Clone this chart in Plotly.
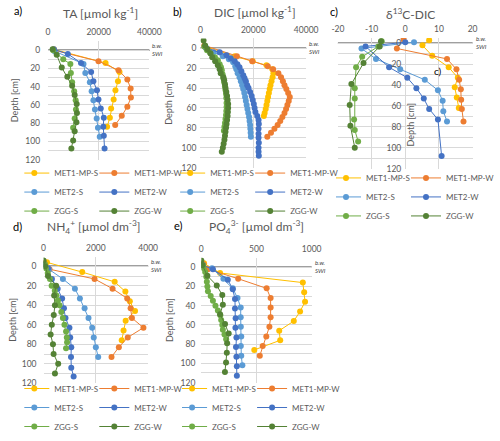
import plotly.graph_objects as go

W, H = 500, 441

SERIES = ["MET1-MP-S", "MET1-MP-W", "MET2-S", "MET2-W", "ZGG-S", "ZGG-W"]
COLORS = ["#FFC000", "#ED7D31", "#5B9BD5", "#4472C4", "#70AD47", "#548235"]

# ---------------- a) TA [umol kg-1] ----------------
ta_met1mp_s_depth = [-1, 14, 24, 34, 44, 54, 64, 74, 84]
ta_met1mp_s = [2300, 22700, 28200, 27600, 26600, 25900, 24900, 24400, 23300]
ta_met1mp_w_depth = [0, 12, 22, 32, 42, 52, 62, 72, 82]
ta_met1mp_w = [2400, 19900, 27800, 31300, 32600, 32700, 31300, 29100, 26500]
ta_met2_s_depth = [1, 15, 25, 35, 45, 55, 65, 75, 85, 95]
ta_met2_s = [2600, 14000, 14700, 16500, 17200, 17900, 18500, 19200, 19700, 20400]
ta_met2_w_depth = [-1, 4, 14, 24, 34, 44, 54, 64, 74, 84, 94, 108]
ta_met2_w = [2300, 7800, 13000, 17000, 17900, 19300, 19900, 20800, 22000, 21800, 22000, 22300]
ta_zgg_s_depth = [0, 10, 15, 25, 35, 45, 55, 65, 75, 85]
ta_zgg_s = [2000, 6000, 8800, 9000, 9500, 10300, 10900, 11000, 10500, 9900]
ta_zgg_w_depth = [-1, 5, 19, 29, 39, 49, 59, 69, 79, 89, 99, 108]
ta_zgg_w = [1800, 3400, 5400, 7600, 9500, 10500, 11300, 11400, 11200, 10500, 9900, 9200]

# ---------------- b) DIC [umol kg-1] ----------------
dic_met1mp_s_depth = [-2, 8, 13, 17, 21, 25, 29, 33, 37, 41, 45, 49, 53, 57, 61, 65, 68]
dic_met1mp_s = [1800, 13000, 19800, 25000, 27200, 27600, 27300, 26900, 26500, 26200,
                25900, 25600, 25300, 25000, 24700, 24300, 24000]
dic_met1mp_w_depth = [-3, 8, 13, 18, 21, 25, 29, 33, 37, 41, 45, 49, 53, 57, 61, 65, 69,
                      73, 77, 81, 85, 89]
dic_met1mp_w = [1500, 13800, 19600, 25500, 27500, 29500, 30500, 31200, 31800, 32500, 33200,
                33800, 33400, 32900, 32400, 31800, 31000, 30200, 29200, 28000, 26700, 25300]
dic_met2_s_depth = [0, 4, 8, 11, 14, 18, 21, 25, 29, 33, 37, 41, 45, 49, 53, 57, 61, 65,
                    69, 73, 77, 81, 85, 89]
dic_met2_s = [2200, 5000, 8500, 10800, 12400, 13200, 13600, 14100, 14800, 15300, 15800,
              16200, 16600, 16900, 17200, 17500, 17800, 18100, 18400, 18600, 18800, 18900,
              19000, 19100]
dic_met2_w_depth = [-1, 4, 7, 10, 13, 16, 19, 23, 27, 30, 33, 37, 40, 44, 48, 52, 56, 60,
                    64, 68, 72, 76, 81, 86, 90, 95, 100, 104, 108]
dic_met2_w = [2000, 7300, 9900, 11500, 13000, 14000, 14800, 15500, 16200, 16700, 17200,
              17700, 18200, 18800, 19400, 19800, 20200, 20500, 20800, 21500, 22000, 22100,
              22000, 22000, 22000, 22100, 22000, 22000, 22100]
dic_zgg_s_depth = [-2, 2, 5, 9, 12, 16, 19, 22, 26, 30, 34, 38, 42, 46, 50, 55, 59, 63,
                   67, 71, 75, 79, 83]
dic_zgg_s = [1500, 2500, 3800, 5500, 6600, 7300, 7800, 8100, 8400, 8700, 9000, 9300, 9500,
             9700, 9800, 9900, 9900, 9800, 9700, 9500, 9300, 9100, 8900]
dic_zgg_w_depth = [-8, -3, 1, 5, 9, 13, 17, 21, 25, 29, 32, 36, 40, 44, 48, 52, 56, 60,
                   64, 68, 72, 76, 80, 84, 88, 92, 96, 100, 104]
dic_zgg_w = [1200, 1800, 2700, 3800, 4500, 5600, 6600, 7300, 7700, 8700, 9000, 9300, 9500,
             9800, 10100, 10300, 10500, 10500, 10400, 10300, 10100, 9900, 9700, 9500, 9300,
             9100, 8800, 8500, 8100]

# ---------------- c) d13C-DIC ----------------
d13c_met1mp_s_depth = [-3, 2, 12, 23, 33, 42, 52, 62]
d13c_met1mp_s = [7.1, 5.1, 8.0, 12.9, 15.6, 14.7, 15.3, 15.9]
d13c_met1mp_w_depth = [-4, 5, 15, 25, 35, 44, 54, 63, 75]
d13c_met1mp_w = [-0.5, -2.5, 12.4, 15.2, 16.0, 16.5, 16.6, 16.8, 17.3]
d13c_met2_s_depth = [-1, 5, 15, 25, 35, 45, 55, 65, 75]
d13c_met2_s = [2.6, -13.0, -8.7, -1.5, 5.8, 9.7, 11.1, 11.3, 12.4]
d13c_met2_w_depth = [-1, 3, 23, 33, 43, 53, 63, 73, 108]
d13c_met2_w = [0.0, -11.8, -4.8, 0.6, 3.3, 5.5, 7.1, 9.7, 10.8]
d13c_zgg_s_depth = [-2, 3, 13, 23, 43, 53, 73, 83, 94]
d13c_zgg_s = [-7.0, -8.0, -12.8, -14.6, -15.0, -15.0, -15.2, -15.0, -14.0]
d13c_zgg_w_depth = [-2, 3, 19, 39, 59, 79, 100]
d13c_zgg_w = [-7.2, -7.6, -12.4, -16.0, -16.5, -16.3, -15.0]

# ---------------- d) NH4+ [umol dm-3] ----------------
nh4_met1mp_s_depth = [-4, 6, 16, 26, 36, 46, 56, 66, 76]
nh4_met1mp_s = [130, 1480, 2720, 3130, 3300, 3500, 3140, 3060, 2990]
nh4_met1mp_w_depth = [-3, 3, 13, 23, 33, 43, 53, 63, 73, 83, 93]
nh4_met1mp_w = [30, 230, 1950, 2640, 3200, 3330, 3380, 3820, 3220, 2880, 2600]
nh4_met2_s_depth = [-1, 3, 13, 23, 33, 43, 53, 63, 73, 83, 93]
nh4_met2_s = [40, 200, 740, 1200, 1390, 1570, 1720, 1860, 1920, 2000, 2090]
nh4_met2_w_depth = [-2, 2, 13, 23, 33, 43, 53, 63, 73, 83, 93, 104, 113]
nh4_met2_w = [30, 170, 320, 540, 710, 780, 840, 990, 1020, 1060, 1050, 1060, 1150]
nh4_zgg_s_depth = [-2, 2, 7, 13, 20, 25, 30, 35, 40, 47, 53, 60, 67, 73, 78, 84]
nh4_zgg_s = [50, 90, 160, 245, 310, 430, 490, 550, 610, 680, 740, 800, 860, 890, 900, 860]
nh4_zgg_w_depth = [-6, 0, 10, 20, 30, 40, 50, 60, 70, 80, 90, 100, 110]
nh4_zgg_w = [0, 60, 170, 480, 405, 435, 390, 315, 270, 360, 385, 560, 435]

# ---------------- e) PO4 3- [umol dm-3] ----------------
po4_met1mp_s_depth = [-4, 6, 16, 26, 36, 46, 56, 66, 76, 86]
po4_met1mp_s = [25, 170, 920, 932, 940, 895, 838, 706, 715, 480]
po4_met1mp_w_depth = [-3, 2, 12, 22, 32, 42, 52, 62, 72, 82, 92]
po4_met1mp_w = [20, 60, 334, 592, 628, 628, 628, 617, 589, 556, 530]
po4_met2_s_depth = [1, 12, 22, 32, 42, 52, 62, 72, 82, 92, 102]
po4_met2_s = [97, 200, 285, 328, 357, 357, 358, 362, 358, 362, 372]
po4_met2_w_depth = [-2, 2, 13, 23, 33, 43, 53, 63, 73, 83, 93, 103, 113]
po4_met2_w = [15, 105, 240, 285, 305, 305, 311, 309, 318, 314, 318, 322, 322]
po4_zgg_s_depth = [-2, 1, 5, 10, 15, 20, 25, 30, 35, 40, 45, 50, 55, 60, 65, 70, 75]
po4_zgg_s = [15, 20, 35, 45, 50, 55, 60, 85, 105, 128, 150, 172, 180, 190, 195, 210, 225]
po4_zgg_w_depth = [-7, -2, 9, 19, 29, 39, 49, 59, 69, 79, 89, 99, 109]
po4_zgg_w = [0, 10, 55, 140, 190, 195, 170, 215, 248, 234, 231, 224, 214]

# ---------------- tick labels ----------------
ta_ticks = [0, 20000, 40000]
dic_ticks = [0, 20000, 40000]
d13c_ticks = [-20, -10, 0, 10, 20]
nh4_ticks = [0, 2000, 4000]
po4_ticks = [0, 500, 1000]
depth_labels = [0, 20, 40, 60, 80, 100, 120]

panel_titles = ["TA [µmol kg<sup>-1</sup>]", "DIC [µmol kg<sup>-1</sup>]", "δ<sup>13</sup>C-DIC",
                "NH<sub>4</sub><sup>+</sup> [µmol dm<sup>-3</sup>]",
                "PO<sub>4</sub><sup>3-</sup> [µmol dm<sup>-3</sup>]"]
panel_letters = ["a)", "b)", "c)", "d)", "e)"]

panel_data = [
    [(ta_met1mp_s, ta_met1mp_s_depth), (ta_met1mp_w, ta_met1mp_w_depth),
     (ta_met2_s, ta_met2_s_depth), (ta_met2_w, ta_met2_w_depth),
     (ta_zgg_s, ta_zgg_s_depth), (ta_zgg_w, ta_zgg_w_depth)],
    [(dic_met1mp_s, dic_met1mp_s_depth), (dic_met1mp_w, dic_met1mp_w_depth),
     (dic_met2_s, dic_met2_s_depth), (dic_met2_w, dic_met2_w_depth),
     (dic_zgg_s, dic_zgg_s_depth), (dic_zgg_w, dic_zgg_w_depth)],
    [(d13c_met1mp_s, d13c_met1mp_s_depth), (d13c_met1mp_w, d13c_met1mp_w_depth),
     (d13c_met2_s, d13c_met2_s_depth), (d13c_met2_w, d13c_met2_w_depth),
     (d13c_zgg_s, d13c_zgg_s_depth), (d13c_zgg_w, d13c_zgg_w_depth)],
    [(nh4_met1mp_s, nh4_met1mp_s_depth), (nh4_met1mp_w, nh4_met1mp_w_depth),
     (nh4_met2_s, nh4_met2_s_depth), (nh4_met2_w, nh4_met2_w_depth),
     (nh4_zgg_s, nh4_zgg_s_depth), (nh4_zgg_w, nh4_zgg_w_depth)],
    [(po4_met1mp_s, po4_met1mp_s_depth), (po4_met1mp_w, po4_met1mp_w_depth),
     (po4_met2_s, po4_met2_s_depth), (po4_met2_w, po4_met2_w_depth),
     (po4_zgg_s, po4_zgg_s_depth), (po4_zgg_w, po4_zgg_w_depth)],
]
panel_xticks = [ta_ticks, dic_ticks, d13c_ticks, nh4_ticks, po4_ticks]

# ---------------- layout geometry (pixels) ----------------
panel_box = [
    (42.7, 148.0, 42.3, 164.0, -10),
    (201.0, 311.0, 39.5, 172.3, -10),
    (344.0, 484.0, 39.1, 173.3, -5),
    (38.0, 146.7, 263.7, 394.0, -10),
    (202.0, 316.7, 264.8, 393.3, -10),
]
ylabel_standoff = [7, 3, 4, 6, 5]
ytitle_standoff = [5, 7, 0, 3, 5]
title_pos = [(97.5, 13), (257.5, 12), (419, 14), (90, 233), (259, 233)]
letter_pos = [(5, 11), (170, 12), (334, 12), (4, 233), (171, 232)]
legend_pos = [(18, 163), (180, 163), (342, 168), (18, 384.5), (182, 384.5)]

GRID = "#d9d9d9"
TXT = "#595959"
FONT = "Lato"

fig = go.Figure()
layout = dict(width=W, height=H, margin=dict(l=0, r=0, t=0, b=0),
              paper_bgcolor="white", plot_bgcolor="white",
              font=dict(family=FONT, color=TXT), showlegend=True)
annotations = []
shapes = []


def paper_text(text, px, py, size, color, xanchor="center", angle=0):
    return dict(text=text, xref="paper", yref="paper", x=px / W, y=1 - py / H,
                xanchor=xanchor, yanchor="middle", showarrow=False, textangle=angle,
                font=dict(size=size, color=color))


for p in range(5):
    sfx = "" if p == 0 else str(p + 1)
    xname, yname = "x" + sfx, "y" + sfx
    leg = "legend" + sfx
    xl, xr, yt, yb, dtop = panel_box[p]
    xdom = [xl / W, xr / W]
    ydom = [1 - yb / H, 1 - yt / H]
    xt = panel_xticks[p]

    for i, (vals, dep) in enumerate(panel_data[p]):
        col1 = (i % 2 == 0)
        fig.add_trace(go.Scatter(
            x=vals, y=dep, mode="lines+markers", name=SERIES[i],
            line=dict(color=COLORS[i], width=1),
            marker=dict(color=COLORS[i], size=6),
            xaxis=xname, yaxis=yname, legend=leg,
            legendwidth=45 if col1 else None,
            legendgroup=f"p{p}{SERIES[i][-1]}", hoverinfo="skip"))

    layout["xaxis" + sfx] = dict(
        domain=xdom, range=[xt[0], xt[-1]], side="top", anchor=yname,
        tickmode="array", tickvals=xt, ticktext=[str(v) for v in xt],
        showgrid=True, gridcolor=GRID, gridwidth=1, zeroline=False, showline=False,
        ticks="", ticklabelstandoff=3, tickfont=dict(size=8.5, color=TXT))
    ycfg = dict(
        domain=ydom, range=[depth_labels[-1], dtop], anchor=xname,
        tickmode="linear", tick0=depth_labels[0], dtick=depth_labels[1] - depth_labels[0],
        minor=dict(tick0=0, dtick=10, showgrid=True, gridcolor=GRID, gridwidth=1, ticks=""),
        showgrid=True, gridcolor=GRID, gridwidth=1, zeroline=False, showline=False,
        ticks="", ticklabelstandoff=ylabel_standoff[p], tickfont=dict(size=8.5, color=TXT))
    if p == 2:
        ycfg["anchor"] = "free"
        ycfg["position"] = (xdom[0] + xdom[1]) / 2
        annotations.append(paper_text("Depth [cm]", 419, 128, 9, TXT, angle=-90))
        annotations.append(paper_text("c)", 448, 73, 10, "black"))
    else:
        ycfg["title"] = dict(text="Depth [cm]", font=dict(size=9, color=TXT),
                             standoff=ytitle_standoff[p])
    layout["yaxis" + sfx] = ycfg

    # sediment-water interface line
    shapes.append(dict(type="line", xref=xname + " domain", x0=0, x1=1,
                       yref=yname, y0=0, y1=0, line=dict(color="#404040", width=1.5),
                       layer="below"))
    annotations.append(dict(text="<i>b.w.</i>", xref=xname + " domain", x=1.0, xanchor="left",
                            yref=yname, y=0, yanchor="bottom", showarrow=False,
                            font=dict(size=6, color="#404040"), xshift=1, yshift=-1))
    annotations.append(dict(text="<i>SWI</i>", xref=xname + " domain", x=1.0, xanchor="left",
                            yref=yname, y=0, yanchor="top", showarrow=False,
                            font=dict(size=6, color="#404040"), xshift=1, yshift=2))

    tx, ty = title_pos[p]
    annotations.append(paper_text(panel_titles[p], tx, ty, 12, TXT))
    lx, ly = letter_pos[p]
    annotations.append(paper_text(panel_letters[p], lx, ly, 11, "black", xanchor="left"))

    gx, gy = legend_pos[p]
    layout[leg] = dict(x=gx / W, y=1 - gy / H, xanchor="left", yanchor="top",
                       orientation="h", traceorder="grouped", itemwidth=30,
                       indentation=-10, tracegroupgap=0, bgcolor="rgba(0,0,0,0)",
                       font=dict(family=FONT, size=8, color=TXT))

layout["annotations"] = annotations
layout["shapes"] = shapes
fig.update_layout(**layout)
fig.write_html("out.html")
